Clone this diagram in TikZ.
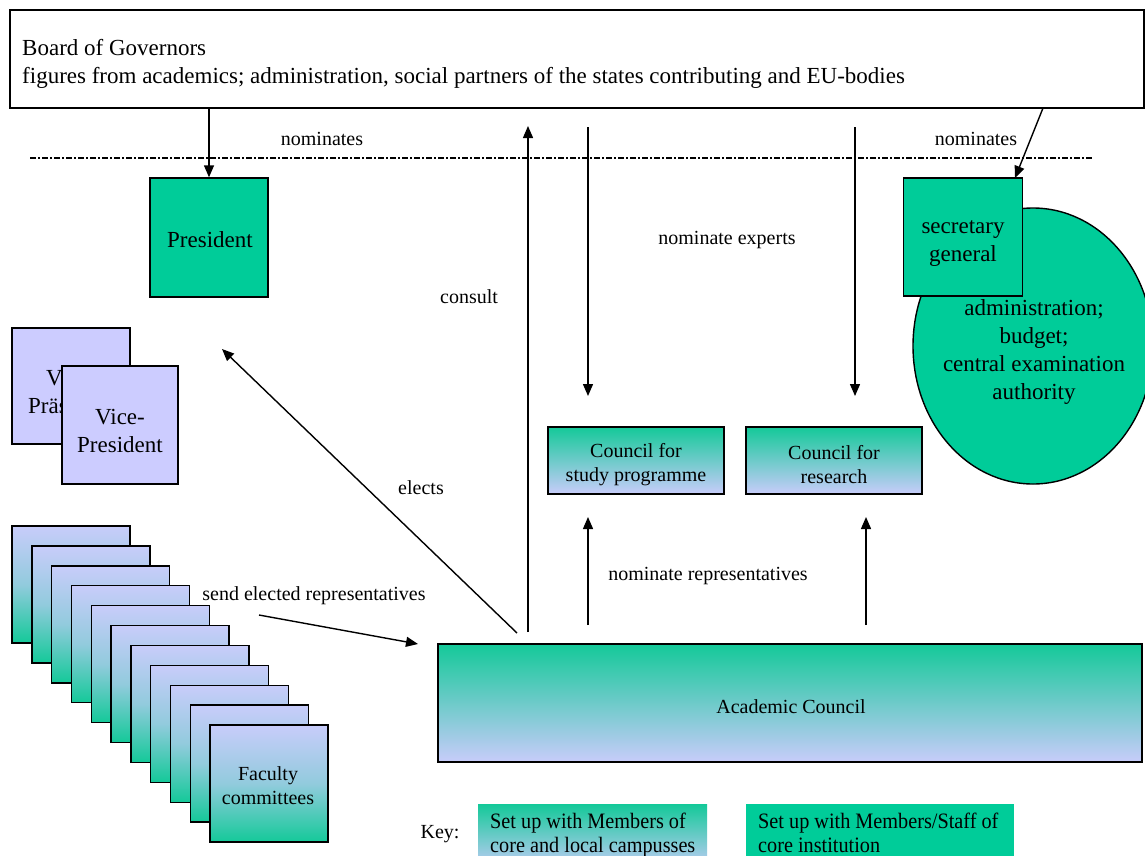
\documentclass[tikz,border=0pt]{standalone}
\usepackage{fontspec}
\setmainfont{Liberation Serif}
\newfontfamily\condserif[FakeStretch=0.92]{Liberation Serif}
\usetikzlibrary{arrows.meta,shapes.geometric,calc}
\definecolor{tealc}{HTML}{00CC99}
\definecolor{lavc}{HTML}{CCCCFF}
\definecolor{grnc}{HTML}{14C999}
\definecolor{lavb}{HTML}{C8CCFA}
\newcommand{\bigfnt}{\fontsize{23}{28}\selectfont}
\newcommand{\smfnt}{\fontsize{20}{24}\selectfont}
\begin{document}
\begin{tikzpicture}[x=1pt,y=-1pt,
  boxst/.style={draw,line width=1.4pt,rectangle,inner sep=0pt,align=center},
  solidbox/.style={boxst,fill=tealc,font=\bigfnt},
  lavbox/.style={boxst,fill=lavc,font=\bigfnt},
  gradbox/.style={boxst,top color=grnc,bottom color=lavb,font=\smfnt},
  facbox/.style={boxst,top color=lavb,bottom color=grnc,middle color=lavb!70!grnc,font=\smfnt,minimum width=118pt,minimum height=117pt},
  lbl/.style={font=\smfnt,inner sep=0pt},
  intxt/.style={inner sep=0pt,align=center},
  arr/.style={line width=1.4pt,-{Triangle[length=12pt,width=10pt]}},
  keytxt/.style={inner sep=0pt,align=left,font=\condserif\fontsize{22}{23.5}\selectfont,anchor=north west}
]
\clip (0,0) rectangle (1145,855);
\fill[white] (0,0) rectangle (1145,855);

% Board of Governors
\node[boxst,minimum width=1134pt,minimum height=98pt] (board) at (577,59) {};
\node[anchor=north west,inner sep=0pt,align=left,font=\bigfnt] (boardtxt) at (22,39)
  {Board of Governors\\figures from academics; administration, social partners of the states contributing and EU-bodies};

% dotted separator
\coordinate (dl) at (30,158);
\coordinate (dr) at (1092,158);
\draw[line width=2.6pt,dash pattern=on 6pt off 2pt on 2pt off 2pt] (dl) -- (dr);

% President
\node[solidbox,minimum width=118pt,minimum height=119pt] (pres) at (209,237.5) {};
\node[intxt,font=\bigfnt] (prestxt) at (210,240) {President};
\draw[arr] (pres.north |- board.south) -- (pres.north);
\node[lbl] (nom1) at (322,139) {nominates};

% administration ellipse and secretary general
\node[ellipse,draw,line width=1.4pt,fill=tealc,minimum width=240pt,minimum height=276pt,inner sep=0pt] (adm) at (1033,346) {};
\node[intxt,font=\bigfnt] (admtxt) at (1034,352)
  {administration;\\budget;\\central examination\\authority};
\node[solidbox,minimum width=119pt,minimum height=118pt] (sec) at (963,237) {};
\node[intxt,font=\bigfnt] (sectxt) at (963,243) {secretary\\general};
\coordinate (secfrom) at (1043,108);
\coordinate (secto) at (1015,178);
\draw[arr] (secfrom) -- (secto);
\node[lbl] (nom2) at (976,139) {nominates};

% Vice presidents
\node[lavbox,minimum width=118pt,minimum height=116pt] (vp1) at (71,386) {};
\node[intxt,font=\bigfnt] (vp1txt) at (71,392) {Vice-\\Präsident};
\node[lavbox,minimum width=116pt,minimum height=118pt] (vp2) at (120,425) {};
\node[intxt,font=\bigfnt] (vp2txt) at (120,431) {Vice-\\President};

% Councils
\node[gradbox,minimum width=176pt,minimum height=67pt] (csp) at (636,460.5) {};
\node[intxt,font=\smfnt] (csptxt) at (636,465) {Council for\\study programme};
\node[gradbox,minimum width=176pt,minimum height=67pt] (cres) at (834,460.5) {};
\node[intxt,font=\smfnt] (crestxt) at (834,465) {Council for\\research};

% Academic Council
\node[gradbox,minimum width=704pt,minimum height=118pt] (acad) at (790,703) {};
\node[intxt,font=\smfnt] (acadtxt) at (791,707) {Academic Council};

% Faculty committees stack
\foreach \i in {0,...,10}{
  \node[facbox] (fac\i) at ({71+19.8*\i},{584.5+19.9*\i}) {};
}
\node[intxt,font=\smfnt] (factxt) at (268,786) {Faculty\\committees};

% consult arrow
\coordinate (cons1) at (528,632);
\coordinate (cons2) at (528,126);
\draw[arr] (cons1) -- (cons2);
\node[lbl] (consl) at (469,297) {consult};

% nominate experts arrows
\coordinate (ne1a) at (588,127);
\coordinate (ne1b) at (588,396);
\coordinate (ne2a) at (855,127);
\coordinate (ne2b) at (855,396);
\draw[arr] (ne1a) -- (ne1b);
\draw[arr] (ne2a) -- (ne2b);
\node[lbl] (nel) at (727,240) {nominate experts};

% nominate representatives arrows
\coordinate (nr1a) at (588,625);
\coordinate (nr1b) at (588,517);
\coordinate (nr2a) at (866,625);
\coordinate (nr2b) at (866,517);
\draw[arr] (nr1a) -- (nr1b);
\draw[arr] (nr2a) -- (nr2b);
\node[lbl] (nrl) at (708,576) {nominate representatives};

% elects
\coordinate (el1) at (517,633);
\coordinate (el2) at (222,349);
\draw[arr] (el1) -- (el2);
\node[lbl] (ell) at (421,488) {elects};

% send elected representatives
\coordinate (se1) at (259,615);
\coordinate (se2) at (418,644);
\draw[arr] (se1) -- (se2);
\node[lbl] (sel) at (314,596) {send elected representatives};

% Key
\node[lbl] (keyl) at (440,834) {Key:};
\node[rectangle,inner sep=0pt,top color=grnc,bottom color=lavb,minimum width=229pt,minimum height=66pt,anchor=north west] (key1) at (478,804) {};
\node[rectangle,inner sep=0pt,fill=tealc,minimum width=268pt,minimum height=66pt,anchor=north west] (key2) at (746,804) {};
\node[keytxt] (key1txt) at (490,813) {Set up with Members of\\core and local campusses};
\node[keytxt] (key2txt) at (758,813) {Set up with Members/Staff of\\core institution};
\end{tikzpicture}
\end{document}
